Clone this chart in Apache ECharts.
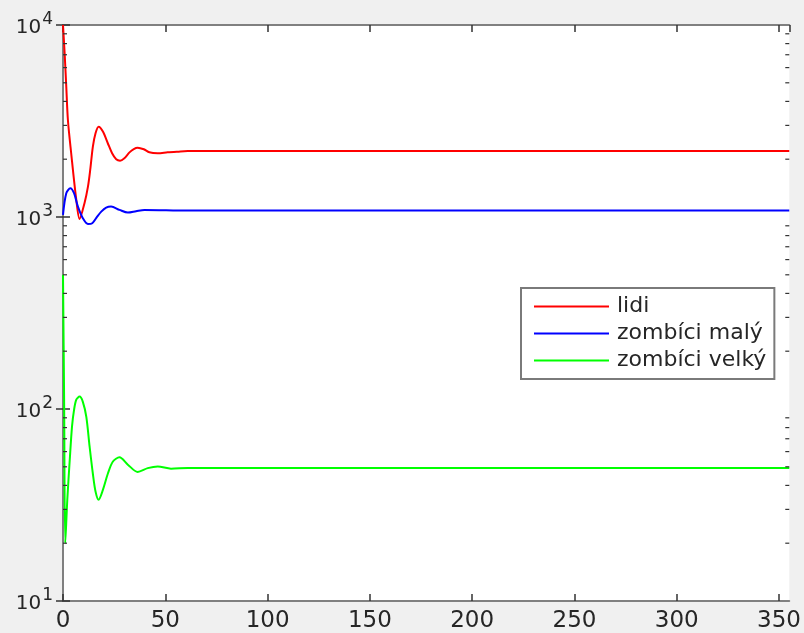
<!DOCTYPE html>
<html>
<head>
<meta charset="utf-8">
<script src="https://cdn.jsdelivr.net/npm/echarts@6/dist/echarts.min.js"></script>
<style>
  html, body { margin: 0; padding: 0; background: #f0f0f0; }
  #chart { width: 804px; height: 633px; }
</style>
</head>
<body>
<div id="chart"></div>
<script>
// data (time, population)
var xMax = 355;
var xTicks = 50;

var lidiT = [0, 0.8, 1.6, 2.4, 4, 6.5, 8.1, 10.5, 12.2, 13.3, 14.6, 15.9, 17.4, 19.5, 21.9, 24, 26,
  27.9, 30, 32.5, 34.6, 36.5, 39.5, 42.2, 46.3, 51.1, 56, 61, 355];
var lidiV = [10000, 7120, 4775, 3200, 2148, 1227, 977, 1180, 1440, 1758, 2325, 2730, 2955, 2785, 2422, 2148, 2000,
  1966, 2024, 2170, 2260, 2297, 2253, 2172, 2148, 2172, 2190, 2206, 2206];

var malyT = [0, 1.6, 3.6, 5.4, 7.3, 9.7, 12.2, 14.3, 16.7, 18.7, 21.1, 23.5, 27.6, 31.7, 35.7, 39.8, 61, 355];
var malyV = [1026, 1330, 1412, 1330, 1133, 986, 920, 928, 1005, 1067, 1119, 1133, 1089, 1054, 1072, 1089, 1080, 1080];

var velkyT = [0, 0.55, 1.1, 2.1, 3.3, 4.4, 5.4, 6.5, 8.1, 9.7, 11.4, 13, 14.6, 15.9, 17.4, 19.5, 21.9, 24.4,
  27.6, 31.7, 36.5, 41.4, 46.3, 52.8, 61, 355];
var velkyV = [500, 112, 20, 33.7, 54.4, 81, 99, 112, 116, 109, 91, 63.8, 46, 37.2, 33.7, 37.9, 46, 53.3,
  56, 51.3, 47, 49.2, 50.2, 48.9, 49.3, 49.3];

var seriesNames = ['lidi', 'zombíci malý', 'zombíci velký'];

// minor ticks of the log axis (2..9 in each decade)
var minorTicks = [20, 30, 40, 50, 60, 70, 80, 90,
  200, 300, 400, 500, 600, 700, 800, 900,
  2000, 3000, 4000, 5000, 6000, 7000, 8000, 9000];

function pairs(t, v) {
  return t.map(function (x, i) { return [x, v[i]]; });
}

var font = 'DejaVu Sans';
var axisGray = '#808080';
var textColor = '#262626';

var chart = echarts.init(document.getElementById('chart'));
chart.setOption({
  backgroundColor: '#f0f0f0',
  animation: false,
  grid: {
    left: 63, right: 13, top: 25, bottom: 32,
    show: true, backgroundColor: '#fff', borderWidth: 0
  },
  legend: {
    data: seriesNames,
    orient: 'vertical',
    left: 521, top: 288,
    padding: [5, 8, 5, 13],
    backgroundColor: '#fff',
    borderColor: '#7a7a7a',
    borderWidth: 2,
    icon: 'rect',
    itemWidth: 75,
    itemHeight: 2,
    itemGap: 0,
    textStyle: { fontFamily: font, fontSize: 22, lineHeight: 27, color: textColor, padding: [0, 0, 0, 3] }
  },
  xAxis: [{
    type: 'value', min: 0, max: xMax, interval: xTicks,
    splitLine: { show: false },
    axisLine: { lineStyle: { color: axisGray, width: 2 } },
    axisTick: { inside: true, length: 7, lineStyle: { color: '#333', width: 1.5 } },
    axisLabel: { showMaxLabel: false, margin: 9, fontFamily: font, fontSize: 23, color: textColor }
  }, {
    type: 'value', min: 0, max: xMax, interval: xTicks, position: 'top',
    splitLine: { show: false },
    axisLine: { lineStyle: { color: axisGray, width: 2 } },
    axisTick: { inside: true, length: 7, lineStyle: { color: '#333', width: 1.5 } },
    axisLabel: { show: false }
  }],
  yAxis: [{
    type: 'log', logBase: 10, min: 10, max: 10000,
    splitLine: { show: false },
    axisLine: { lineStyle: { color: axisGray, width: 2 } },
    axisTick: { inside: true, length: 7, lineStyle: { color: '#333', width: 1.5 } },
    axisLabel: {
      margin: 10,
      formatter: function (v) {
        return '{b|10}{e|' + Math.round(Math.log10(v)) + '}';
      },
      rich: {
        b: { fontFamily: font, fontSize: 20, color: textColor, padding: [6, 0, 0, 0] },
        e: { fontFamily: font, fontSize: 17, color: textColor, padding: [0, 0, 10, 1] }
      }
    }
  }, {
    type: 'log', logBase: 10, min: 10, max: 10000, position: 'right',
    splitLine: { show: false },
    axisLine: { lineStyle: { color: axisGray, width: 2 } },
    axisTick: { inside: true, length: 7, lineStyle: { color: '#333', width: 1.5 } },
    axisLabel: { show: false }
  }],
  series: [
    {
      name: 'lidi', type: 'line', smooth: 0.3, showSymbol: false,
      lineStyle: { color: '#ff0000', width: 2 }, itemStyle: { color: '#ff0000' },
      data: pairs(lidiT, lidiV)
    },
    {
      name: 'zombíci malý', type: 'line', smooth: 0.3, showSymbol: false,
      lineStyle: { color: '#0000ff', width: 2 }, itemStyle: { color: '#0000ff' },
      data: pairs(malyT, malyV)
    },
    {
      name: 'zombíci velký', type: 'line', smooth: 0.3, showSymbol: false,
      lineStyle: { color: '#00ff00', width: 2 }, itemStyle: { color: '#00ff00' },
      data: pairs(velkyT, velkyV)
    },
    {
      name: 'minor', type: 'custom', silent: true, clip: false, z: 5,
      data: minorTicks.map(function (v) { return [0, v]; }),
      renderItem: function (params, api) {
        var l = api.coord([0, api.value(1)]);
        var r = api.coord([xMax, api.value(1)]);
        var st = { stroke: '#333', lineWidth: 1.2 };
        return {
          type: 'group',
          children: [
            { type: 'line', shape: { x1: l[0], y1: l[1], x2: l[0] + 4, y2: l[1] }, style: st },
            { type: 'line', shape: { x1: r[0], y1: r[1], x2: r[0] - 4, y2: r[1] }, style: st }
          ]
        };
      }
    }
  ]
});
</script>
</body>
</html>
